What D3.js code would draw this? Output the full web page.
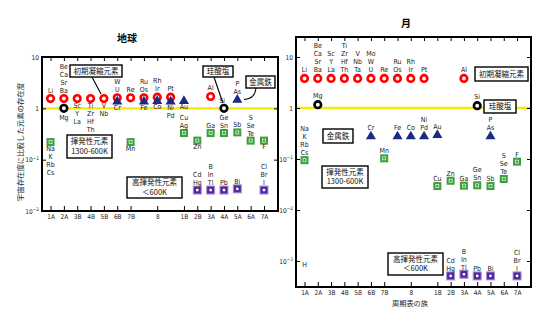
<!DOCTYPE html>
<html><head><meta charset="utf-8">
<script src="https://cdn.jsdelivr.net/npm/d3@7"></script>
<style>body{margin:0;background:#fff} svg{display:block}</style>
</head><body><svg id="c" width="554" height="326"></svg>
<script>
// ---------- data ----------
const groupLabels = ["1A","2A","3B","4B","5B","6B","7B","8","1B","2B","3A","4A","5A","6A","7A"];
const groupCols   = [0,1,2,3,4,5,6,8,10,11,12,13,14,15,16];
const allCols     = [0,1,2,3,4,5,6,7,8,9,10,11,12,13,14,15,16];

const boxRefractory = ["初期凝縮元素"];
const boxSilicate   = ["珪酸塩"];
const boxMetal      = ["金属鉄"];
const boxVolatile   = ["揮発性元素","1300-600K"];
const boxHighVol    = ["高揮発性元素","＜600K"];

// Earth (地球)
const earthRefCols  = [0,1,2,3,4,5,6,7,8,9,12];
const earthRefVals  = [1.55,1.55,1.55,1.55,1.55,1.6,1.6,1.6,1.65,1.65,1.7];
const earthRefAbove = ["Li","Be Ca Sr Ba","","","","W U","Re","Ru Os","Rh Ir","Pt","Al"];
const earthRefBelow = ["","","Sc Y La","Ti Zr Hf Th","V Nb","","","","","",""];

const earthSilCols  = [1,13];
const earthSilVals  = [1.0,1.0];
const earthSilBelow = ["Mg",""];
const earthSilLeft  = ["","Si"];

const earthMetCols  = [5,7,8,9,10,14];
const earthMetVals  = [1.38,1.38,1.42,1.38,1.42,1.5];
const earthMetAbove = ["","","","","","P As"];
const earthMetBelow = ["Cr","Fe","Co","Ni Pd","Au",""];

const earthVolCols  = [0,6,10,11,12,13,14,15,16];
const earthVolVals  = [0.22,0.22,0.33,0.235,0.33,0.33,0.34,0.235,0.235];
const earthVolAbove = ["","","Cu Ag","","Ga","Ge Sn","Sb","S Se Te",""];
const earthVolBelow = ["Na K Rb Cs","Mn","","Zn","","","","","F"];

const earthHvCols   = [11,12,13,14,16];
const earthHvVals   = [0.0256,0.0256,0.0256,0.027,0.0256];
const earthHvAbove  = ["Cd Hg","B In Tl","Pb","Bi","Cl Br I"];

// Moon (月)
const moonRefCols   = [0,1,2,3,4,5,6,7,8,9,12];
const moonRefVals   = [3.8,3.8,3.8,3.8,3.8,3.8,3.8,3.8,3.8,3.8,3.8];
const moonRefAbove  = ["Li","Be Ca Sr Ba","Sc Y La","Ti Zr Hf Th","V Nb Ta","Mo W U","Re","Ru Os","Rh Ir","Pt","Al"];

const moonSilCols   = [1,13];
const moonSilVals   = [1.16,1.11];
const moonSilAbove  = ["Mg","Si"];

const moonMetCols   = [5,7,8,9,10,14];
const moonMetVals   = [0.283,0.283,0.283,0.283,0.30,0.283];
const moonMetAbove  = ["Cr","Fe","Co","Ni Pd","Au","P As"];

const moonVolCols   = [0,6,10,11,12,13,14,15,16];
const moonVolVals   = [0.095,0.103,0.0295,0.0375,0.030,0.0305,0.0295,0.0405,0.0887];
const moonVolAbove  = ["Na K Rb Cs","Mn","Cu","Zn","Ga","Ge Sn","Sb","S Se Te","F"];

const moonHvCols    = [11,12,13,14,16];
const moonHvVals    = [0.00051,0.00055,0.00051,0.00051,0.00051];
const moonHvAbove   = ["Cd Hg","B In Tl","Pb","Bi","Cl Br I"];

const moonHCol = [0];
const moonHVal = [0.00084];
const moonHLabel = ["H"];

// ---------- drawing ----------
const svg = d3.select("#c");
const LATIN = "'DejaVu Sans Condensed','Liberation Sans Narrow','DejaVu Sans',sans-serif";
const CJK = "'Noto Sans CJK JP','Noto Sans CJK SC',sans-serif";
const GAP = 8;

function zip(cols, vals, above, below, left){
  return cols.map((c,i)=>({col:c, v:vals[i], above:above?above[i]:"", below:below?below[i]:"", left:left?left[i]:""}));
}

function drawMarker(g, type){
  if(type==="ref"||type==="sil"){
    g.append("circle").attr("r",3.3).attr("fill","#fff")
      .attr("stroke", type==="ref" ? "#ff0000" : "#000").attr("stroke-width",2.6);
  } else if(type==="met"){
    g.append("path").attr("d", d3.symbol(d3.symbolTriangle, 44)()).attr("fill","#1b2a86")
      .attr("transform","translate(0,0.5)");
  } else if(type==="vol"){
    g.append("rect").attr("x",-4).attr("y",-4).attr("width",8).attr("height",8).attr("fill","#3f9f3f");
    g.append("rect").attr("x",-1.5).attr("y",-1.5).attr("width",3).attr("height",3)
      .attr("fill","none").attr("stroke","#d6f2d6").attr("stroke-width",0.8);
  } else if(type==="hv"){
    g.append("rect").attr("x",-4).attr("y",-4).attr("width",8).attr("height",8)
      .attr("fill","#55289a").attr("stroke","#a892dc").attr("stroke-width",1);
    g.append("rect").attr("x",-1.2).attr("y",-1.2).attr("width",2.4).attr("height",2.4).attr("fill","#fff");
  }
}

const offs = {ref:[-8.5,6.5], sil:[-9,9], met:[-8,6.5], vol:[-7.5,6], hv:[-7,6], none:[0,0]};

function drawPanel(cfg){
  const {x0,x1,y0,y1} = cfg;
  const x = d3.scaleLinear().domain([-0.64,17.05]).range([x0,x1]);
  const y = d3.scaleLog().domain(cfg.yDomain).range(cfg.yRange);
  const g = svg.append("g");

  // yellow line at 1
  g.append("line").attr("x1",x0).attr("x2",x1).attr("y1",y(1)).attr("y2",y(1))
    .attr("stroke","#f2ea00").attr("stroke-width",2.4);

  // axes
  const fontAxis = sel => sel.attr("font-family",LATIN).attr("font-size",6.5);
  const gb = g.append("g").attr("transform",`translate(0,${y1})`)
    .call(d3.axisBottom(x).tickValues(groupCols).tickFormat((d,i)=>groupLabels[i])
      .tickSizeInner(-5).tickSizeOuter(0).tickPadding(3));
  gb.call(fontAxis); gb.select(".domain").remove();
  gb.selectAll(".tick text").attr("fill","#222");

  const gt = g.append("g").attr("transform",`translate(0,${y0})`)
    .call(d3.axisTop(x).tickValues(allCols).tickSize(-4).tickFormat(()=>""));
  gt.select(".domain").remove();

  const gl = g.append("g").attr("transform",`translate(${x0},0)`)
    .call(d3.axisLeft(y).tickValues(cfg.decades).tickSize(-4).tickPadding(3).tickFormat(()=>""));
  gl.call(fontAxis); gl.select(".domain").remove();
  gl.selectAll(".tick text").attr("fill","#222").each(function(d){
    const e = Math.round(Math.log10(d));
    const t = d3.select(this);
    if(e>0) t.text("10");
    else if(e===0) t.text("1");
    else {
      t.append("tspan").text("10");
      t.append("tspan").attr("dy","-0.45em").attr("font-size",4.8).text("−"+(-e));
    }
  });

  const gr = g.append("g").attr("transform",`translate(${x1},0)`)
    .call(d3.axisRight(y).tickValues(cfg.decades).tickSize(-4).tickFormat(()=>""));
  gr.select(".domain").remove();

  // frame
  g.append("rect").attr("x",x0).attr("y",y0).attr("width",x1-x0).attr("height",y1-y0)
    .attr("fill","none").attr("stroke","#000").attr("stroke-width",2);

  // markers + labels
  cfg.series.forEach(s=>{
    const pts = s.data;
    const [oa, ob] = offs[s.type];
    pts.forEach(p=>{
      const px = x(p.col), py = y(p.v);
      if(s.type!=="none"){
        const mg = g.append("g").attr("transform",`translate(${px},${py})`);
        drawMarker(mg, s.type);
      }
      const lab = (str, fn) => {
        if(!str) return;
        const lines = str.split(" ");
        lines.forEach((t,i)=>{
          const [tx,ty,anchor] = fn(i, lines.length);
          g.append("text").attr("x",tx).attr("y",ty).attr("dy","0.35em")
            .attr("text-anchor",anchor).attr("font-family",LATIN).attr("font-size",7)
            .attr("fill","#222").text(t);
        });
      };
      lab(p.above, (i,n)=>[px, py+oa-(n-1-i)*GAP, "middle"]);
      lab(p.below, (i,n)=>[px, py+ob+i*GAP, "middle"]);
      lab(p.left,  (i,n)=>[px+1, py-8, "end"]);
    });
  });

  // leader lines
  (cfg.leaders||[]).forEach(d=>{
    g.append("path").attr("d",d).attr("fill","none").attr("stroke","#000").attr("stroke-width",1.1);
  });

  // boxes
  cfg.boxes.forEach(b=>{
    g.append("rect").attr("x",b.x).attr("y",b.y).attr("width",b.w).attr("height",b.h)
      .attr("fill","#fff").attr("stroke","#000").attr("stroke-width",1.4);
    const n = b.text.length;
    b.text.forEach((t,i)=>{
      g.append("text").attr("x",b.x+b.w/2).attr("y",b.y+b.h/2+(i-(n-1)/2)*9.5).attr("dy","0.35em")
        .attr("text-anchor","middle").attr("font-family",CJK).attr("font-size",7.5)
        .attr("fill","#111").text(t);
    });
  });

  // title
  g.append("text").attr("x",cfg.title[1]).attr("y",cfg.title[2]).attr("dy","0.35em")
    .attr("text-anchor","middle").attr("font-family",CJK).attr("font-weight","bold")
    .attr("font-size",10).text(cfg.title[0]);
  return {x,y,g};
}

// Earth
drawPanel({
  x0:42, x1:278, y0:57, y1:211,
  yDomain:[0.01,10], yRange:[211,57], decades:[10,1,0.1,0.01],
  title:["地球",127,38],
  series:[
    {type:"ref", data:zip(earthRefCols,earthRefVals,earthRefAbove,earthRefBelow)},
    {type:"met", data:zip(earthMetCols,earthMetVals,earthMetAbove,earthMetBelow)},
    {type:"sil", data:zip(earthSilCols,earthSilVals,null,earthSilBelow,earthSilLeft)},
    {type:"vol", data:zip(earthVolCols,earthVolVals,earthVolAbove,earthVolBelow)},
    {type:"hv",  data:zip(earthHvCols,earthHvVals,earthHvAbove)}
  ],
  leaders:["M92,77 L101,94","M214,77 Q219,92 223,103","M256,88 Q255,99 244,99.5"],
  boxes:[
    {x:70,y:65,w:52,h:12,text:boxRefractory},
    {x:203,y:66,w:30,h:11,text:boxSilicate},
    {x:246,y:76,w:29,h:12,text:boxMetal},
    {x:67,y:135,w:45,h:23,text:boxVolatile},
    {x:127,y:177,w:55,h:21,text:boxHighVol}
  ]
});

// Moon
drawPanel({
  x0:296, x1:531, y0:37, y1:287,
  yDomain:[0.001,10], yRange:[261,57], decades:[10,1,0.1,0.01,0.001],
  title:["月",406,23],
  series:[
    {type:"ref", data:zip(moonRefCols,moonRefVals,moonRefAbove)},
    {type:"sil", data:zip(moonSilCols,moonSilVals,moonSilAbove)},
    {type:"met", data:zip(moonMetCols,moonMetVals,moonMetAbove)},
    {type:"vol", data:zip(moonVolCols,moonVolVals,moonVolAbove)},
    {type:"hv",  data:zip(moonHvCols,moonHvVals,moonHvAbove)},
    {type:"none",data:zip(moonHCol,moonHVal,moonHLabel)}
  ],
  boxes:[
    {x:475,y:67,w:53,h:14,text:boxRefractory},
    {x:484,y:100,w:32,h:13,text:boxSilicate},
    {x:323,y:129,w:30,h:14,text:boxMetal},
    {x:322,y:166,w:46,h:22,text:boxVolatile},
    {x:388,y:253,w:55,h:22,text:boxHighVol}
  ]
});

// Axis titles
svg.append("text").attr("transform","translate(20,142) rotate(-90)").attr("dy","0.35em")
  .attr("text-anchor","middle").attr("font-family",CJK).attr("font-size",7.4).attr("fill","#222")
  .text("宇宙存在度に比較した元素の存在度");
svg.append("text").attr("x",410).attr("y",303).attr("dy","0.35em")
  .attr("text-anchor","middle").attr("font-family",CJK).attr("font-size",7.2).attr("fill","#222")
  .text("周期表の族");
</script></body></html>
